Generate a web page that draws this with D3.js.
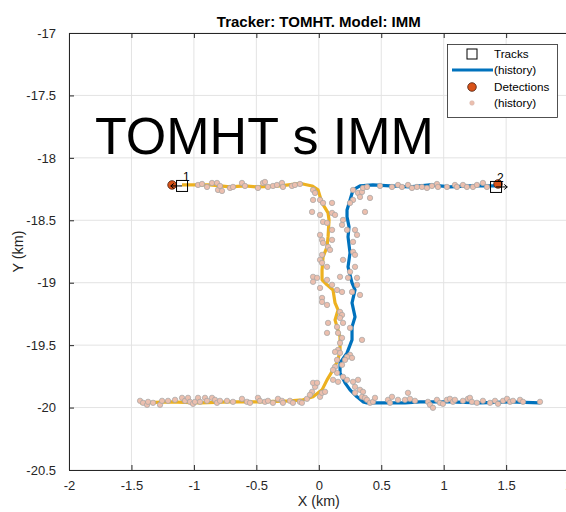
<!DOCTYPE html>
<html lang="en">
<head>
<meta charset="UTF-8">
<title>Tracker: TOMHT. Model: IMM</title>
<style>
    body {
        margin: 0;
        background: #fff;
        font-family: "Liberation Sans", Arial, Helvetica, sans-serif;
    }
    svg { display: block; }
</style>
</head>
<body>
<svg id="chart"></svg>

<script src="https://d3js.org/d3.v7.min.js"></script>
<script>
    // axis ticks
    var xTicks = [-2, -1.5, -1, -0.5, 0, 0.5, 1, 1.5, 2];
    var yTicks = [-20.5, -20, -19.5, -19, -18.5, -18, -17.5, -17];

    // track histories (km), oldest first
    var track1History = [
        [-1.431, -19.962], [-1.191, -19.954], [-0.951, -19.962], [-0.711, -19.954], [-0.471, -19.954],
        [-0.231, -19.946], [-0.127, -19.938], [-0.046, -19.914], [0.026, -19.858], [0.066, -19.778],
        [0.114, -19.698], [0.154, -19.618], [0.170, -19.538], [0.170, -19.434], [0.146, -19.354],
        [0.130, -19.298], [0.154, -19.218], [0.130, -19.162], [0.114, -19.058], [0.066, -19.017],
        [0.026, -18.977], [0.026, -18.897], [0.034, -18.793], [0.066, -18.713], [0.074, -18.633],
        [0.082, -18.497], [0.074, -18.441], [0.050, -18.401], [0.026, -18.361], [-0.006, -18.257],
        [-0.054, -18.225], [-0.127, -18.209], [-0.175, -18.209], [-0.311, -18.225], [-0.487, -18.233],
        [-0.591, -18.225], [-0.711, -18.233], [-0.871, -18.217], [-1.095, -18.217]
    ];
    var track2History = [
        [1.771, -19.962], [1.531, -19.954], [1.291, -19.962], [1.050, -19.954], [0.810, -19.954],
        [0.690, -19.962], [0.570, -19.962], [0.386, -19.962], [0.354, -19.954], [0.306, -19.914],
        [0.250, -19.858], [0.210, -19.802], [0.170, -19.722], [0.170, -19.642], [0.226, -19.562],
        [0.266, -19.458], [0.266, -19.354], [0.290, -19.274], [0.266, -19.162], [0.290, -19.058],
        [0.266, -19.001], [0.234, -18.873], [0.250, -18.761], [0.234, -18.633], [0.242, -18.553],
        [0.226, -18.473], [0.226, -18.417], [0.250, -18.337], [0.274, -18.257], [0.330, -18.225],
        [0.434, -18.217], [0.570, -18.225], [0.730, -18.233], [0.890, -18.217], [1.050, -18.233],
        [1.210, -18.225], [1.419, -18.225]
    ];

    // current tracks and detections
    var trackIds = ["1", "2"];
    var trackX = [-1.095, 1.419];
    var trackY = [-18.225, -18.233];
    var trackDir = [-1, 1];
    var detX = [-1.175, 1.435];
    var detY = [-18.217, -18.209];

    // detection history (km)
    var detHistTop = [
        [-0.967, -18.217], [-0.935, -18.209], [-0.895, -18.233], [-0.855, -18.201], [-0.815, -18.201],
        [-0.807, -18.257], [-0.775, -18.265], [-0.791, -18.225], [-0.711, -18.241], [-0.687, -18.233],
        [-0.615, -18.201], [-0.591, -18.225], [-0.487, -18.241], [-0.447, -18.201], [-0.431, -18.193],
        [-0.407, -18.233], [-0.367, -18.225], [-0.335, -18.217], [-0.295, -18.201], [-0.287, -18.233],
        [-0.215, -18.225], [-0.191, -18.217], [-0.151, -18.209], [-0.046, -18.257], [-0.030, -18.281],
        [-0.046, -18.337], [0.010, -18.337], [0.034, -18.361], [-0.054, -18.433], [0.010, -18.457],
        [0.274, -18.257], [0.314, -18.281], [0.346, -18.273], [0.354, -18.241], [0.386, -18.233],
        [0.330, -18.313], [0.274, -18.337], [0.250, -18.361], [0.410, -18.321], [0.370, -18.433],
        [0.490, -18.225], [0.586, -18.233], [0.634, -18.217], [0.666, -18.233], [0.714, -18.217],
        [0.746, -18.241], [0.786, -18.233], [0.826, -18.233], [0.866, -18.241], [0.906, -18.225],
        [0.946, -18.209], [0.954, -18.233], [1.026, -18.233], [1.090, -18.217], [1.106, -18.233],
        [1.154, -18.217], [1.186, -18.233], [1.234, -18.233], [1.266, -18.217], [1.314, -18.201],
        [1.346, -18.233]
    ];
    var detHistMid = [
        [0.106, -18.361], [0.106, -18.441], [0.130, -18.457], [0.034, -18.513], [0.066, -18.521],
        [0.106, -18.577], [0.010, -18.617], [0.026, -18.657], [0.034, -18.681], [0.106, -18.657],
        [0.074, -18.713], [0.090, -18.737], [0.026, -18.777], [0.010, -18.817], [0.026, -18.841],
        [0.066, -18.873], [-0.046, -18.953], [-0.046, -18.993], [-0.014, -18.961], [0.066, -18.977],
        [0.170, -18.953], [0.106, -19.017], [0.146, -19.058], [0.186, -19.074], [0.010, -19.042],
        [0.026, -19.122], [0.194, -18.497], [0.186, -18.537], [0.226, -18.577], [0.290, -18.577],
        [0.306, -18.617], [0.274, -18.673], [0.274, -18.753], [0.194, -18.817], [0.290, -18.777],
        [0.290, -18.873], [0.250, -18.913], [0.234, -18.961], [0.306, -18.961], [0.306, -19.017],
        [0.266, -19.074], [0.330, -19.098], [0.026, -19.154], [0.066, -19.178], [0.170, -19.234],
        [0.186, -19.258], [0.170, -19.282], [0.074, -19.322], [0.146, -19.354], [0.194, -19.322],
        [0.066, -19.402], [0.154, -19.402], [0.250, -19.362], [0.186, -19.442], [0.170, -19.482],
        [0.154, -19.538], [0.170, -19.562], [0.130, -19.554], [0.346, -19.458], [0.250, -19.578],
        [0.226, -19.594], [0.266, -19.602], [0.210, -19.618], [0.146, -19.618], [0.186, -19.658],
        [0.130, -19.674], [0.146, -19.722], [0.194, -19.754], [0.114, -19.698], [0.314, -19.778],
        [-0.030, -19.834], [-0.054, -19.874]
    ];
    var detHistBottom = [
        [-1.431, -19.946], [-1.407, -19.962], [-1.375, -19.978], [-1.367, -19.954], [-1.327, -19.962],
        [-1.271, -19.978], [-1.255, -19.946], [-1.207, -19.946], [-1.151, -19.938], [-1.095, -19.922],
        [-1.071, -19.946], [-1.047, -19.922], [-1.031, -19.954], [-1.007, -19.970], [-0.991, -19.954],
        [-0.967, -19.922], [-0.951, -19.954], [-0.911, -19.922], [-0.895, -19.946], [-0.855, -19.922],
        [-0.831, -19.938], [-0.815, -19.962], [-0.791, -19.946], [-0.735, -19.946], [-0.687, -19.954],
        [-0.615, -19.930], [-0.575, -19.954], [-0.551, -19.962], [-0.487, -19.922], [-0.471, -19.946],
        [-0.431, -19.954], [-0.407, -19.946], [-0.367, -19.962], [-0.327, -19.930], [-0.295, -19.946],
        [-0.287, -19.962], [-0.231, -19.946], [-0.207, -19.962], [-0.151, -19.954], [-0.135, -19.962],
        [-0.095, -19.930], [-0.071, -19.898], [-0.046, -19.802], [-0.014, -19.802], [0.010, -19.914],
        [0.026, -19.882], [0.050, -19.874], [0.114, -19.778], [0.154, -19.794],
        [0.226, -19.778], [0.274, -19.794], [0.290, -19.834], [0.330, -19.858], [0.354, -19.874],
        [0.290, -19.882], [0.346, -19.914], [0.370, -19.922], [0.386, -19.938], [0.410, -19.962],
        [0.434, -19.954], [0.450, -19.922], [0.554, -19.938], [0.586, -19.914], [0.570, -19.962],
        [0.634, -19.938], [0.690, -19.938], [0.714, -19.882], [0.730, -19.930], [0.770, -19.946],
        [0.874, -19.954], [0.890, -19.978], [0.914, -20.002], [0.946, -19.938], [0.970, -19.962],
        [0.994, -19.970], [1.026, -19.938], [1.050, -19.930], [1.074, -19.954], [1.090, -19.938],
        [1.154, -19.946], [1.194, -19.930], [1.210, -19.922], [1.226, -19.954], [1.266, -19.962],
        [1.314, -19.946], [1.371, -19.962], [1.411, -19.946], [1.435, -19.970], [1.475, -19.946],
        [1.507, -19.930], [1.531, -19.954], [1.555, -19.946], [1.611, -19.938], [1.635, -19.954],
        [1.771, -19.954]
    ];

    var W = 566, H = 512;
    var margin = { top: 33, left: 69 };
    var plotW = 499.6, plotH = 437;

    var svg = d3.select("#chart").attr("width", W).attr("height", H);

    var x = d3.scaleLinear().domain([-2, 2]).range([margin.left, margin.left + plotW]);
    var y = d3.scaleLinear().domain([-20.5, -17]).range([margin.top + plotH, margin.top]);

    var axisColor = "#262626";
    var fmt = function (d) { return String(d); };

    // grid
    svg.append("g").selectAll("line").data(xTicks).enter().append("line")
        .attr("x1", d => x(d)).attr("x2", d => x(d))
        .attr("y1", y(-20.5)).attr("y2", y(-17))
        .attr("stroke", "#e3e3e3").attr("stroke-width", 1);
    svg.append("g").selectAll("line").data(yTicks).enter().append("line")
        .attr("x1", x(-2)).attr("x2", x(2))
        .attr("y1", d => y(d)).attr("y2", d => y(d))
        .attr("stroke", "#e3e3e3").attr("stroke-width", 1);

    // big overlay caption
    svg.append("text")
        .attr("x", 95).attr("y", 154)
        .attr("font-size", 52)
        .attr("fill", "#000")
        .text("TOMHT s IMM");

    // track history lines
    var line = d3.line().x(d => x(d[0])).y(d => y(d[1]));
    svg.append("path").datum(track1History)
        .attr("d", line).attr("fill", "none")
        .attr("stroke", "#EDB120").attr("stroke-width", 3.2).attr("stroke-linejoin", "round");
    svg.append("path").datum(track2History)
        .attr("d", line).attr("fill", "none")
        .attr("stroke", "#0072BD").attr("stroke-width", 3.2).attr("stroke-linejoin", "round");

    // detection history
    var detHist = detHistTop.concat(detHistMid, detHistBottom);
    svg.append("g").selectAll("circle").data(detHist).enter().append("circle")
        .attr("cx", d => x(d[0])).attr("cy", d => y(d[1]))
        .attr("r", 2.7)
        .attr("fill", "#ecbfae")
        .attr("stroke", "#a3a3a3").attr("stroke-width", 0.7);

    // current detections
    svg.append("g").selectAll("circle").data(detX).enter().append("circle")
        .attr("cx", (d, i) => x(d)).attr("cy", (d, i) => y(detY[i]))
        .attr("r", 4.3)
        .attr("fill", "#D95319")
        .attr("stroke", "#4a2010").attr("stroke-width", 0.8);

    // current tracks: square, heading and label
    var tg = svg.append("g");
    trackX.forEach(function (tx, i) {
        var cx = x(tx), cy = y(trackY[i]);
        tg.append("rect")
            .attr("x", cx - 5.5).attr("y", cy - 5.5)
            .attr("width", 11).attr("height", 11)
            .attr("fill", "none").attr("stroke", "#000").attr("stroke-width", 1);
        var hx = x(tx + trackDir[i] * 0.09);
        tg.append("path")
            .attr("d", "M" + cx + "," + cy + "L" + hx + "," + cy +
                "M" + (hx - trackDir[i] * 3) + "," + (cy - 2.5) + "L" + hx + "," + cy +
                "L" + (hx - trackDir[i] * 3) + "," + (cy + 2.5))
            .attr("fill", "none").attr("stroke", "#000").attr("stroke-width", 1);
        tg.append("text")
            .attr("x", cx + 1).attr("y", cy - 5)
            .attr("font-size", 12).attr("fill", "#000")
            .text(trackIds[i]);
    });

    // axes (ticks inside, MATLAB-like)
    var gx = svg.append("g").attr("transform", "translate(0," + y(-20.5) + ")")
        .call(d3.axisBottom(x).tickValues(xTicks).tickFormat(fmt).tickSizeInner(-5).tickSizeOuter(0).tickPadding(11));
    var gxt = svg.append("g").attr("transform", "translate(0," + y(-17) + ")")
        .call(d3.axisTop(x).tickValues(xTicks).tickFormat("").tickSizeInner(-5).tickSizeOuter(0));
    var gy = svg.append("g").attr("transform", "translate(" + x(-2) + ",0)")
        .call(d3.axisLeft(y).tickValues(yTicks).tickFormat(fmt).tickSizeInner(-5).tickSizeOuter(0).tickPadding(13));
    [gx, gxt, gy].forEach(function (g) {
        g.select(".domain").attr("stroke", axisColor);
        g.selectAll(".tick line").attr("stroke", axisColor);
        g.selectAll("text").attr("fill", axisColor)
            .attr("font-size", 13)
            .attr("font-family", "\"Liberation Sans\", Arial, sans-serif");
    });
    svg.append("line")
        .attr("x1", x(2)).attr("x2", x(2)).attr("y1", y(-20.5)).attr("y2", y(-17))
        .attr("stroke", axisColor);

    // title and axis labels
    svg.append("text")
        .attr("x", x(0)).attr("y", 27)
        .attr("text-anchor", "middle")
        .attr("font-size", 15).attr("font-weight", "bold").attr("fill", "#000")
        .text("Tracker: TOMHT. Model: IMM");
    svg.append("text")
        .attr("x", x(0)).attr("y", 506)
        .attr("text-anchor", "middle")
        .attr("font-size", 14.3).attr("fill", axisColor)
        .text("X (km)");
    svg.append("text")
        .attr("transform", "translate(23," + y(-18.75) + ") rotate(-90)")
        .attr("text-anchor", "middle")
        .attr("font-size", 14.3).attr("fill", axisColor)
        .text("Y (km)");

    // legend
    var lg = svg.append("g");
    lg.append("rect")
        .attr("x", 447.5).attr("y", 44.5).attr("width", 110).attr("height", 73)
        .attr("fill", "#fff").attr("stroke", axisColor).attr("stroke-width", 0.8);
    lg.append("rect")
        .attr("x", 467).attr("y", 49).attr("width", 10).attr("height", 10)
        .attr("fill", "none").attr("stroke", "#000").attr("stroke-width", 1);
    lg.append("line")
        .attr("x1", 452).attr("x2", 493).attr("y1", 70).attr("y2", 70)
        .attr("stroke", "#0072BD").attr("stroke-width", 3);
    lg.append("circle")
        .attr("cx", 472).attr("cy", 87).attr("r", 4.3)
        .attr("fill", "#D95319").attr("stroke", "#4a2010").attr("stroke-width", 0.8);
    lg.append("circle")
        .attr("cx", 472).attr("cy", 103).attr("r", 2.3)
        .attr("fill", "#ecbfae").attr("stroke", "#d0b0a8").attr("stroke-width", 0.5);
    var legendText = ["Tracks", "(history)", "Detections", "(history)"];
    lg.selectAll("text.lt").data(legendText).enter().append("text")
        .attr("class", "lt")
        .attr("x", 494).attr("y", (d, i) => 58 + i * 16.3)
        .attr("font-size", 11.7).attr("fill", "#000")
        .text(d => d);
</script>
</body>
</html>
